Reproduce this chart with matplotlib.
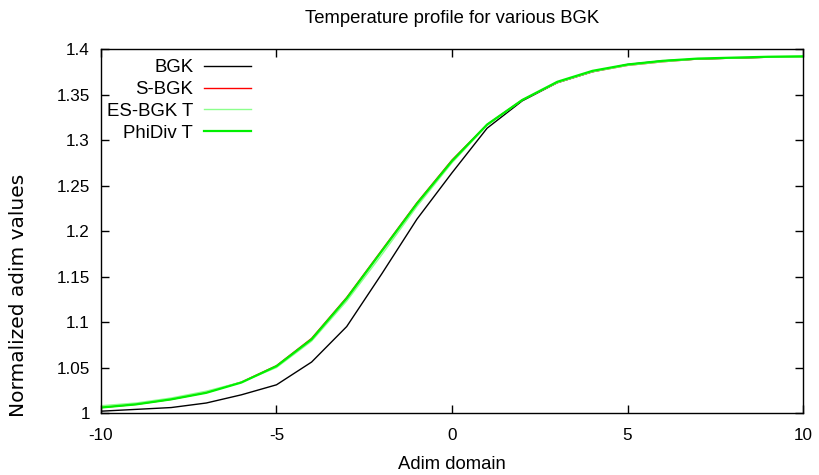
import numpy as np
import matplotlib
matplotlib.use('Agg')
import matplotlib.pyplot as plt

plt.rcParams['font.family'] = ['Liberation Sans', 'DejaVu Sans']

# data
x = [-10, -9, -8, -7, -6, -5, -4, -3, -2, -1, 0,
     1, 2, 3, 4, 5, 6, 7, 8, 9, 10]
bgk = [1.002, 1.004, 1.006, 1.011, 1.020, 1.031, 1.056, 1.095, 1.153, 1.213, 1.264,
       1.313, 1.343, 1.363, 1.375, 1.383, 1.387, 1.389, 1.390, 1.391, 1.391]
s_bgk = [1.006, 1.0095, 1.015, 1.0225, 1.034, 1.052, 1.082, 1.127, 1.179, 1.231, 1.278,
         1.317, 1.344, 1.363, 1.375, 1.382, 1.386, 1.389, 1.390, 1.391, 1.391]
es_bgk = [1.008, 1.011, 1.0165, 1.024, 1.034, 1.050, 1.079, 1.123, 1.174, 1.227, 1.275,
          1.316, 1.344, 1.363, 1.375, 1.382, 1.386, 1.389, 1.390, 1.391, 1.391]
phidiv = [1.006, 1.0095, 1.015, 1.0222, 1.0335, 1.0515, 1.081, 1.126, 1.178, 1.230, 1.277,
          1.317, 1.344, 1.364, 1.376, 1.383, 1.387, 1.3895, 1.3905, 1.3915, 1.392]

labels = ['BGK', 'S-BGK', 'ES-BGK T', 'PhiDiv T']
colors = ['black', '#ff0000', '#8cff8c', '#00f000']
widths = [1.0, 1.0, 1.0, 1.6]

fig = plt.figure(figsize=(8.19, 4.75), dpi=100)
ax = fig.add_axes([0.1233, 0.1305, 0.8572, 0.7663])

for ys, lab, c, w in zip([bgk, s_bgk, es_bgk, phidiv], labels, colors, widths):
    ax.plot(x, ys, color=c, linewidth=w, label=lab)

ax.set_xlim(-10, 10)
ax.set_ylim(1.0, 1.4)
ax.set_xticks([-10, -5, 0, 5, 10])
ax.set_xticklabels(['-10', '-5', '0', '5', '10'])
ax.set_yticks(np.arange(1.0, 1.401, 0.05))
ax.set_yticklabels(['1', '1.05', '1.1', '1.15', '1.2', '1.25', '1.3', '1.35', '1.4'])
ax.tick_params(axis='x', direction='in', top=True, length=6, width=1, labelsize=12.3, pad=10.5)
ax.tick_params(axis='y', direction='in', right=True, length=6, width=1, labelsize=12.3, pad=8)
for s in ax.spines.values():
    s.set_linewidth(1)

ax.set_xlabel('Adim domain', fontsize=13.3, labelpad=10)
ax.set_ylabel('Normalized adim values', fontsize=14.5, family=['DejaVu Sans'])
ax.yaxis.set_label_coords(-0.1045, 0.324)
ax.set_title('Temperature profile for various BGK', fontsize=13.3, pad=19)

ax.legend(loc='upper left', markerfirst=False, frameon=False, fontsize=13.4,
          handlelength=2.5, handletextpad=0.6, labelspacing=0.26,
          borderpad=0, borderaxespad=0, bbox_to_anchor=(0.0085, 0.972))

plt.savefig('out.png', dpi=100)
